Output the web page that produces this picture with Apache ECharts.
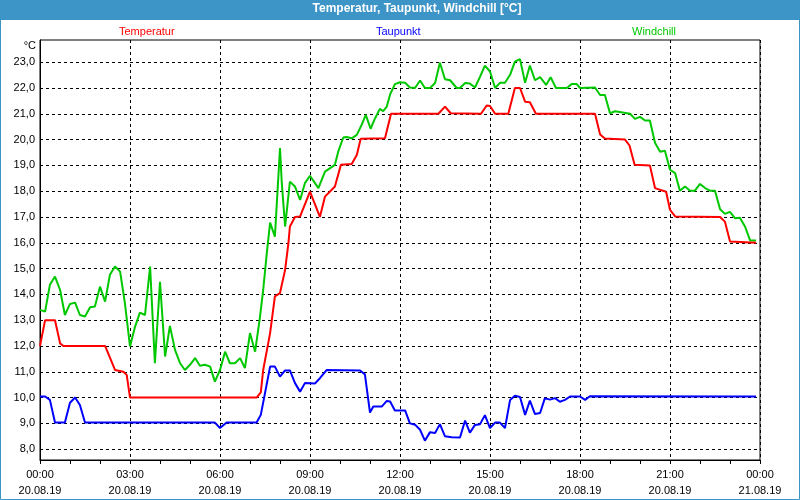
<!DOCTYPE html>
<html>
<head>
<meta charset="utf-8">
<script src="https://cdn.jsdelivr.net/npm/echarts@6/dist/echarts.min.js"></script>
<style>
html,body{margin:0;padding:0;background:#fff;}
#c{width:800px;height:500px;}
</style>
</head>
<body>
<div id="c"></div>
<script>
// ---- data (hours since 20.08.19 00:00, °C) ----
const seriesNames = ['Temperatur', 'Taupunkt', 'Windchill'];
const tempHours = [0,0.17,0.5,0.67,0.78,2.17,2.5,2.78,2.89,3.0,7.22,7.36,7.44,7.67,7.83,8.0,8.17,8.28,8.33,8.5,8.67,9.0,9.33,9.5,9.83,10.03,10.39,10.56,10.69,11.5,11.7,13.28,13.5,13.69,14.7,14.89,15.0,15.17,15.61,15.83,16.0,16.17,16.33,16.53,18.5,18.67,18.83,19.5,19.65,19.82,20.33,20.5,20.87,21.0,21.17,22.67,22.83,23.0,23.87];
const tempValues = [12.0,13.0,13.0,12.1,12.0,12.0,11.07,11.0,10.88,10.0,10.0,10.2,11.07,12.5,13.92,14.05,14.95,15.98,16.63,17.0,17.02,17.98,17.0,17.79,18.18,19.02,19.05,19.4,20.03,20.05,21.0,21.0,21.28,21.02,21.0,21.32,21.3,21.0,21.0,22.0,22.0,21.47,21.45,21.0,21.0,20.2,20.04,20.0,19.77,19.02,19.0,18.12,17.98,17.28,17.02,17.0,16.82,16.05,16.0];
const dewHours = [0,0.17,0.33,0.5,0.83,1.0,1.17,1.33,1.5,5.83,6.0,6.22,7.22,7.36,7.5,7.67,7.83,8.0,8.17,8.33,8.5,8.67,8.83,9.17,9.33,9.56,10.67,10.83,11.0,11.11,11.39,11.56,11.67,11.83,12.17,12.33,12.5,12.67,12.83,13.0,13.17,13.33,13.5,13.72,14.0,14.17,14.33,14.5,14.67,14.83,15.0,15.17,15.33,15.5,15.67,15.83,16.0,16.17,16.33,16.5,16.67,16.83,17.0,17.17,17.33,17.5,17.67,18.0,18.17,18.33,23.87];
const dewValues = [10.04,10.04,9.91,9.03,9.03,9.8,10.0,9.71,9.03,9.03,8.82,9.03,9.03,9.33,10.17,11.2,11.2,10.81,11.05,11.05,10.56,10.23,10.56,10.55,10.75,11.07,11.05,10.9,9.42,9.65,9.65,9.87,9.85,9.5,9.5,9.0,8.95,8.75,8.33,8.66,8.63,8.97,8.5,8.46,8.45,9.11,8.64,8.94,8.97,9.32,8.82,9.03,9.03,8.82,9.91,10.07,10.02,9.33,9.88,9.36,9.4,9.98,9.92,9.98,9.84,9.91,10.04,10.04,9.91,10.05,10.04];
const chillHours = [0,0.17,0.33,0.5,0.67,0.83,1.0,1.17,1.33,1.5,1.67,1.83,2.0,2.17,2.33,2.5,2.67,2.83,3.0,3.17,3.33,3.5,3.67,3.83,4.0,4.17,4.33,4.5,4.67,4.83,5.0,5.17,5.33,5.5,5.67,5.83,6.0,6.17,6.33,6.5,6.67,6.83,7.0,7.17,7.33,7.44,7.56,7.67,7.83,8.0,8.06,8.17,8.33,8.5,8.67,8.83,9.0,9.28,9.5,9.83,9.94,10.11,10.22,10.39,10.56,10.72,10.86,11.02,11.17,11.33,11.44,11.56,11.67,11.83,12.0,12.17,12.33,12.5,12.67,12.83,13.0,13.17,13.33,13.5,13.67,13.89,14.0,14.17,14.33,14.5,14.67,14.83,15.0,15.17,15.33,15.5,15.67,15.83,16.0,16.17,16.33,16.5,16.67,16.87,17.02,17.2,17.56,17.72,17.89,18.0,18.5,18.67,18.83,19.0,19.17,19.67,19.83,20.0,20.17,20.33,20.5,20.67,20.83,21.0,21.17,21.33,21.5,21.67,21.83,22.0,22.17,22.33,22.5,22.67,22.83,23.0,23.17,23.33,23.5,23.67,23.87];
const chillValues = [13.4,13.33,14.37,14.69,14.17,13.2,13.63,13.68,13.2,13.14,13.5,13.53,14.3,13.72,14.76,15.08,14.88,13.66,11.98,12.75,13.29,13.2,15.08,11.33,14.49,11.59,12.78,11.85,11.33,11.07,11.27,11.53,11.23,11.27,11.2,10.62,11.07,11.78,11.33,11.33,11.53,11.14,12.5,11.78,13.1,14.17,15.6,16.78,16.24,19.67,18.31,16.63,18.37,18.18,17.66,18.31,18.6,18.12,18.76,19.02,19.53,20.08,20.1,20.05,20.18,20.57,20.96,20.42,20.83,21.19,21.1,21.28,21.75,22.15,22.22,22.2,22.02,22.0,22.29,22.0,22.0,22.19,22.98,22.34,22.3,22.0,22.0,22.19,22.17,22.02,22.44,22.87,22.64,22.0,22.2,22.2,22.51,23.02,23.12,22.2,22.87,22.3,22.42,22.12,22.42,22.0,22.0,22.15,22.15,22.0,22.02,21.73,21.73,21.02,21.1,21.0,20.8,20.88,20.74,20.74,19.88,19.53,19.57,18.83,18.7,18.02,18.18,18.02,18.02,18.28,18.12,18.02,18.02,17.3,17.12,17.2,16.95,16.97,16.63,16.09,16.09];
const yTickValues = [8,9,10,11,12,13,14,15,16,17,18,19,20,21,22,23];
const xTickHours = [0,3,6,9,12,15,18,21,24];
const xTickLabels = ['00:00\n20.08.19','03:00\n20.08.19','06:00\n20.08.19','09:00\n20.08.19','12:00\n20.08.19','15:00\n20.08.19','18:00\n20.08.19','21:00\n20.08.19','00:00\n21.08.19'];
const titleText = 'Temperatur, Taupunkt, Windchill [°C]';
const unitText = '°C';
const colors = ['#ff0000', '#0000ff', '#00c800'];

function zip(a, b) { return a.map((h, i) => [h, b[i]]); }

const chart = echarts.init(document.getElementById('c'), null, {renderer: 'canvas'});
const FONT = 'Liberation Sans';
const legendLefts = [114, 371, 627];

chart.setOption({
  animation: false,
  backgroundColor: '#ffffff',
  graphic: [
    {type: 'rect', shape: {x: 0, y: 0, width: 800, height: 20}, style: {fill: '#3d94c7'}, z: -1},
    {type: 'rect', shape: {x: 0.5, y: 0.5, width: 799, height: 499}, style: {fill: null, stroke: '#3d94c7', lineWidth: 1}, z: 10}
  ],
  title: {
    text: titleText,
    left: 417, top: 3, textAlign: 'center',
    padding: 0,
    textStyle: {color: '#ffffff', fontFamily: FONT, fontSize: 12, fontWeight: 'bold'}
  },
  legend: seriesNames.map((n, i) => ({
    data: [n], left: legendLefts[i], top: 25, padding: 0,
    icon: 'none', itemWidth: 0, itemHeight: 14, selectedMode: false,
    textStyle: {color: colors[i], fontFamily: FONT, fontSize: 11}
  })),
  grid: {left: 40, right: 40, top: 40, bottom: 40, show: true, borderColor: '#000', borderWidth: 1, backgroundColor: 'transparent'},
  xAxis: {
    type: 'value', min: 0, max: 24, interval: 3,
    axisLine: {lineStyle: {color: '#000', width: 1}},
    axisTick: {show: true, length: 4, lineStyle: {color: '#000'}},
    minorTick: {show: true, splitNumber: 3, length: 4, lineStyle: {color: '#000'}},
    splitLine: {show: true, lineStyle: {color: '#000', type: [3, 3], width: 1}},
    axisLabel: {
      margin: 7, color: '#000', fontFamily: FONT, fontSize: 11, lineHeight: 16,
      formatter: v => { const i = xTickHours.indexOf(v); return i >= 0 ? xTickLabels[i] : ''; }
    }
  },
  yAxis: {
    type: 'value', min: 7.58, max: 23.86,
    name: unitText, nameLocation: 'end', nameGap: -6,
    nameTextStyle: {align: 'right', verticalAlign: 'middle', padding: [0, 4, 0, 0], color: '#000', fontFamily: FONT, fontSize: 11},
    axisLine: {show: true, lineStyle: {color: '#000', width: 1}},
    axisTick: {show: false, customValues: yTickValues},
    splitLine: {show: true, lineStyle: {color: '#000', type: [3, 3], width: 1}},
    axisLabel: {
      customValues: yTickValues, margin: 5, color: '#000', fontFamily: FONT, fontSize: 11,
      formatter: v => v.toFixed(1).replace('.', ',')
    }
  },
  series: [
    {name: seriesNames[0], type: 'line', data: zip(tempHours, tempValues), showSymbol: false, color: colors[0], lineStyle: {width: 2, color: colors[0]}, z: 3},
    {name: seriesNames[1], type: 'line', data: zip(dewHours, dewValues), showSymbol: false, color: colors[1], lineStyle: {width: 2, color: colors[1]}, z: 3},
    {name: seriesNames[2], type: 'line', data: zip(chillHours, chillValues), showSymbol: false, color: colors[2], lineStyle: {width: 2, color: colors[2]}, z: 2}
  ]
});
</script>
</body>
</html>
